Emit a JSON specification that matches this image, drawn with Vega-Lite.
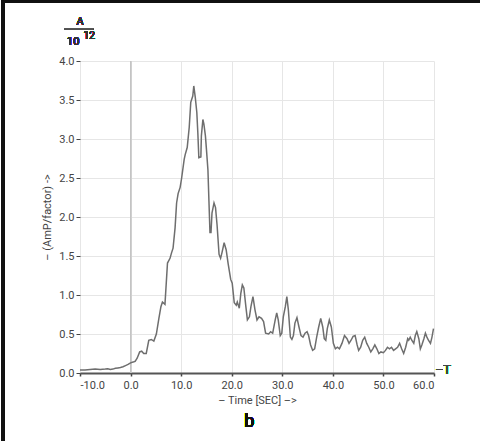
{
  "$schema": "https://vega.github.io/schema/vega-lite/v6.json",
  "width": 354,
  "height": 312,
  "autosize": "none",
  "padding": {"left": 80, "top": 61, "right": 46, "bottom": 68},
  "background": "white",
  "config": {
    "font": "Roboto",
    "view": {"stroke": null}
  },
  "resolve": {"axis": {"x": "independent", "y": "independent"}},
  "data": {
    "values": [
      {"t": -10, "v": 0.04}, {"t": -9, "v": 0.04}, {"t": -8, "v": 0.045}, {"t": -7, "v": 0.05},
      {"t": -6, "v": 0.045}, {"t": -5, "v": 0.05}, {"t": -4.5, "v": 0.055}, {"t": -4, "v": 0.045},
      {"t": -3.5, "v": 0.05}, {"t": -3, "v": 0.06}, {"t": -2.5, "v": 0.065}, {"t": -2, "v": 0.07},
      {"t": -1.5, "v": 0.08}, {"t": -1, "v": 0.095}, {"t": -0.5, "v": 0.11}, {"t": 0, "v": 0.13},
      {"t": 0.5, "v": 0.14}, {"t": 0.9, "v": 0.15}, {"t": 1.3, "v": 0.19}, {"t": 1.8, "v": 0.27},
      {"t": 2.2, "v": 0.28}, {"t": 2.6, "v": 0.25}, {"t": 3.1, "v": 0.25}, {"t": 3.6, "v": 0.42},
      {"t": 4.1, "v": 0.43}, {"t": 4.6, "v": 0.41}, {"t": 5.1, "v": 0.5}, {"t": 5.6, "v": 0.7},
      {"t": 6.0, "v": 0.85}, {"t": 6.3, "v": 0.91}, {"t": 6.8, "v": 0.88}, {"t": 7.3, "v": 1.41},
      {"t": 7.8, "v": 1.47}, {"t": 8.1, "v": 1.54}, {"t": 8.4, "v": 1.6}, {"t": 8.8, "v": 1.86},
      {"t": 9.1, "v": 2.18}, {"t": 9.4, "v": 2.3}, {"t": 9.8, "v": 2.38}, {"t": 10.1, "v": 2.5},
      {"t": 10.6, "v": 2.74}, {"t": 10.8, "v": 2.8}, {"t": 11.2, "v": 2.89}, {"t": 11.6, "v": 3.15},
      {"t": 11.9, "v": 3.47}, {"t": 12.3, "v": 3.55}, {"t": 12.5, "v": 3.68}, {"t": 12.8, "v": 3.53},
      {"t": 13.1, "v": 3.34}, {"t": 13.3, "v": 3.08}, {"t": 13.5, "v": 2.76}, {"t": 13.9, "v": 2.77},
      {"t": 14.0, "v": 3.04}, {"t": 14.3, "v": 3.25}, {"t": 14.5, "v": 3.19}, {"t": 14.8, "v": 3.04},
      {"t": 15.0, "v": 2.87}, {"t": 15.3, "v": 2.6}, {"t": 15.5, "v": 2.2}, {"t": 15.7, "v": 1.8},
      {"t": 15.9, "v": 1.8}, {"t": 16.1, "v": 2.05}, {"t": 16.5, "v": 2.18}, {"t": 16.8, "v": 2.12},
      {"t": 17.1, "v": 1.9}, {"t": 17.5, "v": 1.52}, {"t": 17.8, "v": 1.47}, {"t": 18.1, "v": 1.55},
      {"t": 18.5, "v": 1.67}, {"t": 18.9, "v": 1.58}, {"t": 19.3, "v": 1.4}, {"t": 19.8, "v": 1.2},
      {"t": 20.1, "v": 1.15}, {"t": 20.5, "v": 0.9}, {"t": 20.9, "v": 0.87}, {"t": 21.1, "v": 0.91},
      {"t": 21.5, "v": 0.83}, {"t": 21.8, "v": 1.02}, {"t": 22.1, "v": 1.13}, {"t": 22.4, "v": 1.09},
      {"t": 22.8, "v": 0.85}, {"t": 23.1, "v": 0.68}, {"t": 23.5, "v": 0.72}, {"t": 23.8, "v": 0.85},
      {"t": 24.2, "v": 0.98}, {"t": 24.6, "v": 0.81}, {"t": 25.0, "v": 0.68}, {"t": 25.4, "v": 0.72},
      {"t": 25.9, "v": 0.7}, {"t": 26.3, "v": 0.66}, {"t": 26.7, "v": 0.51}, {"t": 27.3, "v": 0.5},
      {"t": 27.7, "v": 0.53}, {"t": 28.1, "v": 0.51}, {"t": 28.6, "v": 0.68}, {"t": 28.9, "v": 0.77},
      {"t": 29.2, "v": 0.68}, {"t": 29.6, "v": 0.48}, {"t": 29.9, "v": 0.51}, {"t": 30.2, "v": 0.72},
      {"t": 30.6, "v": 0.85}, {"t": 30.9, "v": 0.98}, {"t": 31.2, "v": 0.81}, {"t": 31.6, "v": 0.46},
      {"t": 31.9, "v": 0.43}, {"t": 32.2, "v": 0.48}, {"t": 32.5, "v": 0.64}, {"t": 32.9, "v": 0.71},
      {"t": 33.3, "v": 0.59}, {"t": 33.7, "v": 0.48}, {"t": 34.1, "v": 0.46}, {"t": 34.5, "v": 0.51},
      {"t": 34.9, "v": 0.53}, {"t": 35.2, "v": 0.48}, {"t": 35.6, "v": 0.36}, {"t": 36.0, "v": 0.29},
      {"t": 36.4, "v": 0.31}, {"t": 36.8, "v": 0.46}, {"t": 37.2, "v": 0.59}, {"t": 37.6, "v": 0.7},
      {"t": 38.0, "v": 0.59}, {"t": 38.3, "v": 0.44}, {"t": 38.6, "v": 0.42}, {"t": 38.9, "v": 0.57},
      {"t": 39.3, "v": 0.68}, {"t": 39.7, "v": 0.59}, {"t": 40.1, "v": 0.38}, {"t": 40.5, "v": 0.31},
      {"t": 40.9, "v": 0.33}, {"t": 41.3, "v": 0.31}, {"t": 41.8, "v": 0.38}, {"t": 42.3, "v": 0.48},
      {"t": 42.8, "v": 0.44}, {"t": 43.2, "v": 0.38}, {"t": 43.6, "v": 0.42}, {"t": 44.0, "v": 0.47},
      {"t": 44.4, "v": 0.48}, {"t": 44.8, "v": 0.36}, {"t": 45.1, "v": 0.29}, {"t": 45.5, "v": 0.33},
      {"t": 45.9, "v": 0.42}, {"t": 46.3, "v": 0.46}, {"t": 46.7, "v": 0.38}, {"t": 47.1, "v": 0.33},
      {"t": 47.5, "v": 0.27}, {"t": 47.9, "v": 0.31}, {"t": 48.3, "v": 0.36}, {"t": 48.7, "v": 0.31},
      {"t": 49.1, "v": 0.25}, {"t": 49.5, "v": 0.27}, {"t": 50.0, "v": 0.26}, {"t": 50.4, "v": 0.29},
      {"t": 50.8, "v": 0.33}, {"t": 51.2, "v": 0.31}, {"t": 51.6, "v": 0.33}, {"t": 52.0, "v": 0.29},
      {"t": 52.4, "v": 0.31}, {"t": 52.8, "v": 0.33}, {"t": 53.2, "v": 0.38}, {"t": 53.6, "v": 0.31},
      {"t": 54.0, "v": 0.25}, {"t": 54.4, "v": 0.33}, {"t": 54.8, "v": 0.44}, {"t": 55.0, "v": 0.42},
      {"t": 55.3, "v": 0.46}, {"t": 55.6, "v": 0.42}, {"t": 56.0, "v": 0.38}, {"t": 56.3, "v": 0.48},
      {"t": 56.6, "v": 0.53}, {"t": 57.0, "v": 0.44}, {"t": 57.3, "v": 0.31}, {"t": 57.6, "v": 0.36},
      {"t": 58.0, "v": 0.44}, {"t": 58.3, "v": 0.51}, {"t": 58.6, "v": 0.46}, {"t": 58.9, "v": 0.42},
      {"t": 59.3, "v": 0.38}, {"t": 59.6, "v": 0.46}, {"t": 59.9, "v": 0.57}
    ]
  },
  "layer": [
    {
      "mark": {"type": "rule", "color": "#c4c4c4", "strokeWidth": 1},
      "encoding": {
        "x": {"datum": 0, "type": "quantitative", "axis": null}
      }
    },
    {
      "mark": {"type": "line", "color": "#6e6e6e", "strokeWidth": 1.5, "interpolate": "linear"},
      "encoding": {
        "x": {
          "field": "t", "type": "quantitative",
          "scale": {"domain": [-10, 60], "nice": false, "zero": false},
          "axis": {
            "values": [-10, 0, 10, 20, 30, 40, 50, 60],
            "format": ".1f",
            "labelExpr": "replace(datum.label, '−', '-')",
            "title": "– Time [SEC]  –>",
            "titleFontSize": 11,
            "titleFontWeight": "normal",
            "titleColor": "#444",
            "titlePadding": 4,
            "labelFontSize": 11,
            "labelColor": "#444",
            "labelPadding": 3,
            "grid": true,
            "gridColor": "#e6e6e6",
            "domainColor": "#555555",
            "domainWidth": 2.2,
            "tickColor": "#444",
            "tickSize": 3,
            "tickWidth": 1.5
          }
        },
        "y": {
          "field": "v", "type": "quantitative",
          "scale": {"domain": [0, 4], "nice": false},
          "axis": {
            "values": [0, 0.5, 1, 1.5, 2, 2.5, 3, 3.5, 4],
            "format": ".1f",
            "title": "– (AmP/factor) ->",
            "titleFontSize": 11,
            "titleFontWeight": "normal",
            "titleColor": "#444",
            "titlePadding": 6,
            "labelFontSize": 11,
            "labelColor": "#444",
            "labelPadding": 2,
            "labelOverlap": false,
            "grid": true,
            "gridColor": "#e6e6e6",
            "domain": false,
            "tickColor": "#444",
            "tickSize": 4
          }
        }
      }
    },
    {
      "mark": {"type": "text", "text": "–T", "align": "left", "baseline": "middle", "fontSize": 12, "fontWeight": "normal", "color": "#444", "dy": -3},
      "encoding": {
        "x": {"datum": 60.3, "type": "quantitative", "axis": null},
        "y": {"datum": 0, "type": "quantitative", "axis": null}
      }
    },
    {
      "mark": {"type": "text", "text": "b", "align": "center", "baseline": "middle", "fontSize": 18, "fontWeight": "normal", "color": "#111"},
      "encoding": {
        "x": {"datum": 23.5, "type": "quantitative", "axis": null},
        "y": {"datum": -0.63, "type": "quantitative", "axis": null}
      }
    },
    {
      "mark": {"type": "text", "text": "A", "align": "center", "baseline": "middle", "fontSize": 11, "fontWeight": "normal", "color": "#333"},
      "encoding": {
        "x": {"datum": -10, "type": "quantitative", "axis": null},
        "y": {"datum": 4.5, "type": "quantitative", "axis": null}
      }
    },
    {
      "mark": {"type": "rule", "color": "#555", "strokeWidth": 1},
      "encoding": {
        "x": {"datum": -13.1, "type": "quantitative", "axis": null},
        "x2": {"datum": -7.4},
        "y": {"datum": 4.415, "type": "quantitative", "axis": null}
      }
    },
    {
      "mark": {"type": "text", "text": "10", "align": "right", "baseline": "alphabetic", "fontSize": 11, "fontWeight": "normal", "color": "#333"},
      "encoding": {
        "x": {"datum": -10.1, "type": "quantitative", "axis": null},
        "y": {"datum": 4.2, "type": "quantitative", "axis": null}
      }
    },
    {
      "mark": {"type": "text", "text": "12", "align": "left", "baseline": "alphabetic", "fontSize": 10, "fontWeight": "normal", "color": "#333"},
      "encoding": {
        "x": {"datum": -9.3, "type": "quantitative", "axis": null},
        "y": {"datum": 4.28, "type": "quantitative", "axis": null}
      }
    },
    {
      "mark": {"type": "rect", "fill": null, "fillOpacity": 0, "stroke": "#111", "strokeWidth": 2.5},
      "encoding": {
        "x": {"datum": -25.25, "type": "quantitative", "axis": null},
        "x2": {"datum": 69.6},
        "y": {"datum": 4.76, "type": "quantitative", "axis": null},
        "y2": {"datum": -0.9}
      }
    }
  ]
}
